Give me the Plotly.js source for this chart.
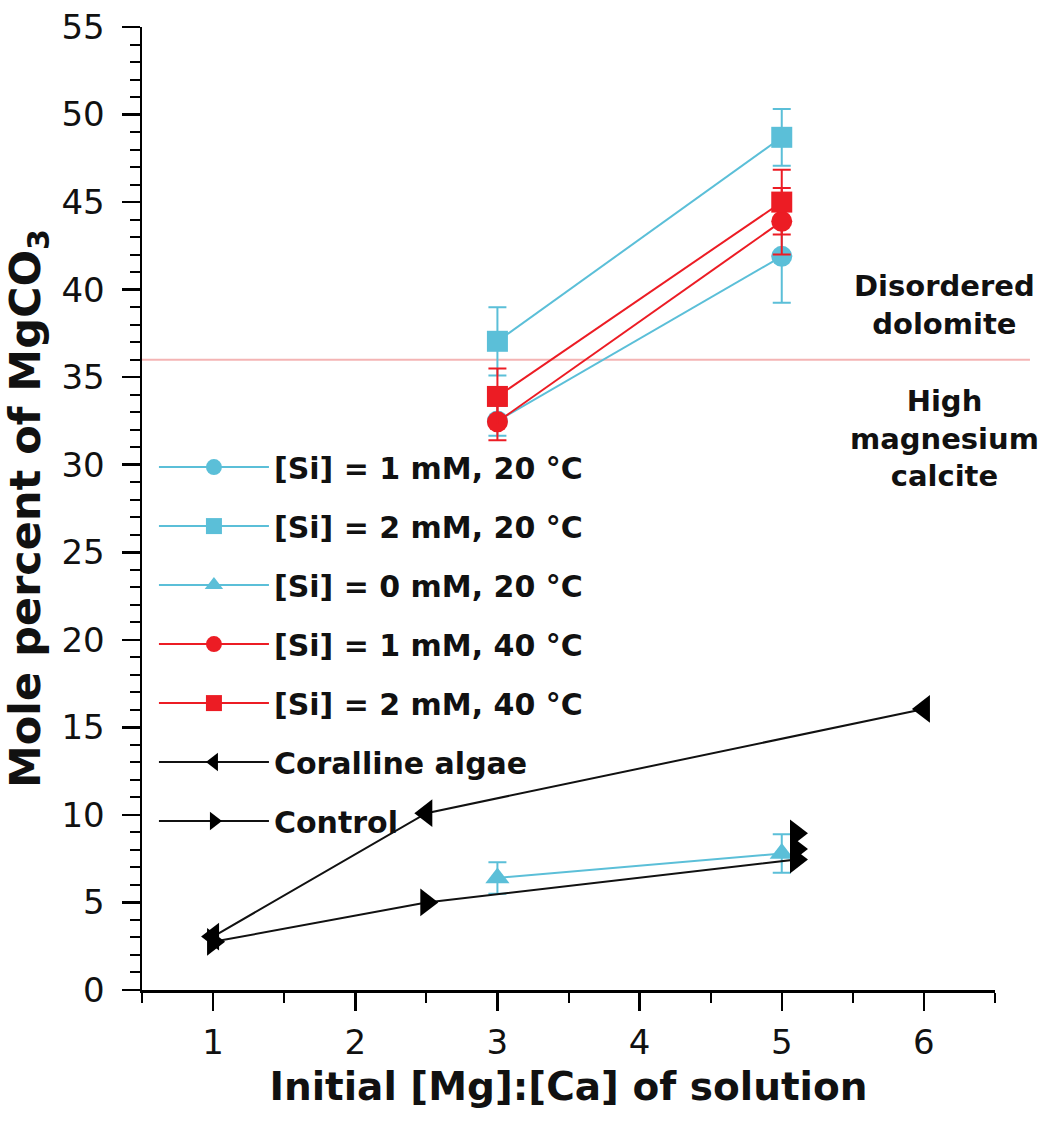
<!DOCTYPE html>
<html>
<head>
<meta charset="utf-8">
<script src="https://cdn.plot.ly/plotly-3.0.1.min.js"></script>
<style>html,body{margin:0;padding:0;background:#fff;}#chart{width:1049px;height:1122px;}</style>
</head>
<body>
<div id="chart"></div>
<script>
// ---- data ----
const ratioSi = [3, 5];
const si1mM20C = [32.5, 41.9];
const si1mM20CErr = [0.85, 2.65];
const si2mM20C = [37.05, 48.7];
const si2mM20CErr = [1.95, 1.62];
const si0mM20C = [6.4, 7.8];
const si0mM20CErr = [0.9, 1.1];
const si1mM40C = [32.45, 43.9];
const si1mM40CErr = [1.05, 1.9];
const si2mM40C = [33.9, 45.0];
const si2mM40CErr = [1.6, 1.85];
const corallineX = [1, 2.5, 6];
const corallineY = [3.05, 10.1, 16.05];
const controlX = [1, 2.5, 5.1, 5.1, 5.1];
const controlY = [2.75, 5.0, 7.45, 8.05, 8.95];
const dolomiteBoundary = 36;
const xTicks = [1, 2, 3, 4, 5, 6];
const yTicks = [0, 5, 10, 15, 20, 25, 30, 35, 40, 45, 50, 55];
const names = ['[Si] = 1 mM, 20 °C', '[Si] = 2 mM, 20 °C', '[Si] = 0 mM, 20 °C',
               '[Si] = 1 mM, 40 °C', '[Si] = 2 mM, 40 °C', 'Coralline algae', 'Control'];

const CYAN = '#5bbfd8';
const RED = '#ec1c24';
const FONT = 'DejaVu Sans, Arial, sans-serif';

function siTrace(name, y, err, color, symbol, group) {
  return {
    type: 'scatter', mode: 'lines+markers', name: name, legendgroup: group,
    x: ratioSi, y: y,
    line: {color: color, width: 2},
    marker: {color: color, symbol: symbol, size: 21},
    error_y: {type: 'data', array: err, visible: true, color: color, thickness: 2, width: 9}
  };
}

const traces = [
  siTrace(names[0], si1mM20C, si1mM20CErr, CYAN, 'circle', 'a'),
  siTrace(names[1], si2mM20C, si2mM20CErr, CYAN, 'square', 'b'),
  siTrace(names[2], si0mM20C, si0mM20CErr, CYAN, 'triangle-up', 'c'),
  siTrace(names[3], si1mM40C, si1mM40CErr, RED, 'circle', 'd'),
  siTrace(names[4], si2mM40C, si2mM40CErr, RED, 'square', 'e'),
  {type: 'scatter', mode: 'lines+markers', name: names[5], legendgroup: 'f',
   x: corallineX, y: corallineY, line: {color: '#111', width: 2},
   marker: {color: '#000', symbol: 'triangle-left', size: 24}},
  {type: 'scatter', mode: 'lines+markers', name: names[6], legendgroup: 'g',
   x: controlX, y: controlY, line: {color: '#111', width: 2},
   marker: {color: '#000', symbol: 'triangle-right', size: 24}}
];

const axisCommon = {
  showline: true, linecolor: '#000', linewidth: 2.5, mirror: false,
  showgrid: false, zeroline: false,
  ticks: 'outside', ticklen: 18, tickwidth: 2.5, tickcolor: '#000',
  tickfont: {family: FONT, size: 34, color: '#111'}
};

const layout = {
  width: 1049, height: 1122,
  margin: {l: 142, r: 54, t: 27, b: 132},
  paper_bgcolor: '#fff', plot_bgcolor: '#fff',
  showlegend: true,
  legend: {
    x: 0.014, y: 0.57, xanchor: 'left', yanchor: 'top',
    bgcolor: 'rgba(0,0,0,0)', borderwidth: 0,
    font: {family: FONT, size: 30, color: '#111', weight: 'bold'},
    itemwidth: 110, tracegroupgap: 17, traceorder: 'grouped'
  },
  xaxis: Object.assign({}, axisCommon, {
    range: [0.5, 6.5], tickmode: 'array', tickvals: xTicks, ticktext: xTicks.map(String),
    ticklabelstandoff: 3,
    minor: {dtick: 0.5, tick0: 0.5, ticks: 'outside', ticklen: 10, tickwidth: 2, tickcolor: '#000'},
    title: {text: 'Initial [Mg]:[Ca] of solution', standoff: 12,
            font: {family: FONT, size: 39, color: '#111', weight: 'bold'}}
  }),
  yaxis: Object.assign({}, axisCommon, {
    range: [0, 55], tickmode: 'array', tickvals: yTicks, ticktext: yTicks.map(String),
    ticklabelstandoff: 10,
    minor: {dtick: 1, tick0: 0, ticks: 'outside', ticklen: 10, tickwidth: 2, tickcolor: '#000'},
    title: {text: 'Mole percent of MgCO<sub>3</sub>', standoff: 10,
            font: {family: FONT, size: 43, color: '#111', weight: 'bold'}}
  }),
  shapes: [{
    type: 'line', xref: 'paper', yref: 'y', x0: 0, x1: 1.041,
    y0: dolomiteBoundary, y1: dolomiteBoundary,
    line: {color: '#f4b4b4', width: 2}, layer: 'below'
  }],
  annotations: [
    {xref: 'paper', yref: 'y', x: 0.941, y: 39.1, xanchor: 'center', yanchor: 'middle',
     text: 'Disordered<br>dolomite', showarrow: false, align: 'center',
     font: {family: FONT, size: 29, color: '#111', weight: 'bold'}},
    {xref: 'paper', yref: 'y', x: 0.941, y: 31.5, xanchor: 'center', yanchor: 'middle',
     text: 'High<br>magnesium<br>calcite', showarrow: false, align: 'center',
     font: {family: FONT, size: 29, color: '#111', weight: 'bold'}}
  ]
};

Plotly.newPlot('chart', traces, layout, {displayModeBar: false, staticPlot: true});
</script>
</body>
</html>
